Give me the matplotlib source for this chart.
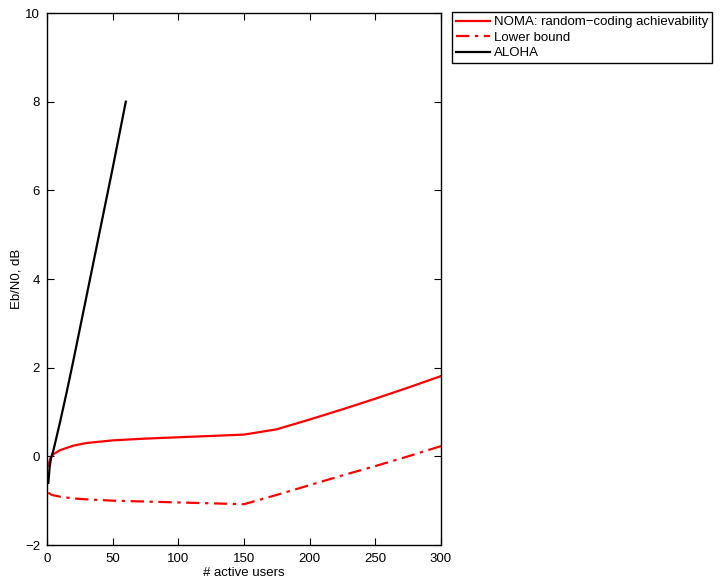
import matplotlib.pyplot as plt
import numpy as np

plt.rcParams['font.family'] = ['Liberation Sans', 'DejaVu Sans']

# NOMA: random-coding achievability
noma_users = [1, 2, 3, 5, 10, 20, 30, 50, 75, 100, 125, 150, 175, 200, 225, 250, 275, 300]
noma_ebn0 = [-0.22, -0.1, -0.02, 0.05, 0.14, 0.24, 0.3, 0.36, 0.4, 0.43, 0.46, 0.49, 0.61, 0.83, 1.06, 1.3, 1.55, 1.81]

# Lower bound
lb_users = [1, 3, 5, 10, 20, 30, 50, 75, 100, 125, 150, 175, 200, 225, 250, 275, 300]
lb_ebn0 = [-0.82, -0.86, -0.88, -0.91, -0.95, -0.97, -1.0, -1.02, -1.04, -1.06, -1.08, -0.87, -0.65, -0.43, -0.22, 0.0, 0.23]

# ALOHA
aloha_users = [1, 2, 3, 5, 10, 15, 20, 30, 40, 50, 60]
aloha_ebn0 = [-0.6, -0.25, -0.05, 0.15, 0.78, 1.45, 2.15, 3.6, 5.05, 6.5, 8.0]

fig = plt.figure(figsize=(7.23, 5.78), dpi=100)
ax = fig.add_axes([47 / 723, 1 - 545 / 578, (441 - 47) / 723, (545 - 13) / 578])

ax.plot(noma_users, noma_ebn0, color='red', lw=1.6, label='NOMA: random\u2212coding achievability')
ax.plot(lb_users, lb_ebn0, color='red', lw=1.6, linestyle=(0, (6, 2.5, 1.5, 2.5)), label='Lower bound')
ax.plot(aloha_users, aloha_ebn0, color='black', lw=1.6, label='ALOHA')

ax.set_xlim(0, 300)
ax.set_ylim(-2, 10)
ax.set_xticks(np.arange(0, 301, 50))
ax.set_yticks(np.arange(-2, 11, 2))
ax.set_yticklabels([str(v).replace('-', '\u2212') for v in range(-2, 11, 2)])
ax.tick_params(direction='in', top=True, right=True, length=5, width=0.8, labelsize=9.5)
ax.tick_params(axis='x', pad=6)
ax.tick_params(axis='y', pad=5)
for s in ax.spines.values():
    s.set_linewidth(1.0)

ax.set_xlabel('# active users', fontsize=9.5, labelpad=1)
ax.set_ylabel('Eb/N0, dB', fontsize=9.5, labelpad=2)

fig.legend(loc='upper left', bbox_to_anchor=(452 / 723, 1 - 12 / 578), borderaxespad=0,
           fancybox=False, edgecolor='black', framealpha=1, fontsize=9.5,
           handlelength=2.6, handletextpad=0.25, labelspacing=0.25, borderpad=0.3)

fig.savefig('out.png', dpi=100)
